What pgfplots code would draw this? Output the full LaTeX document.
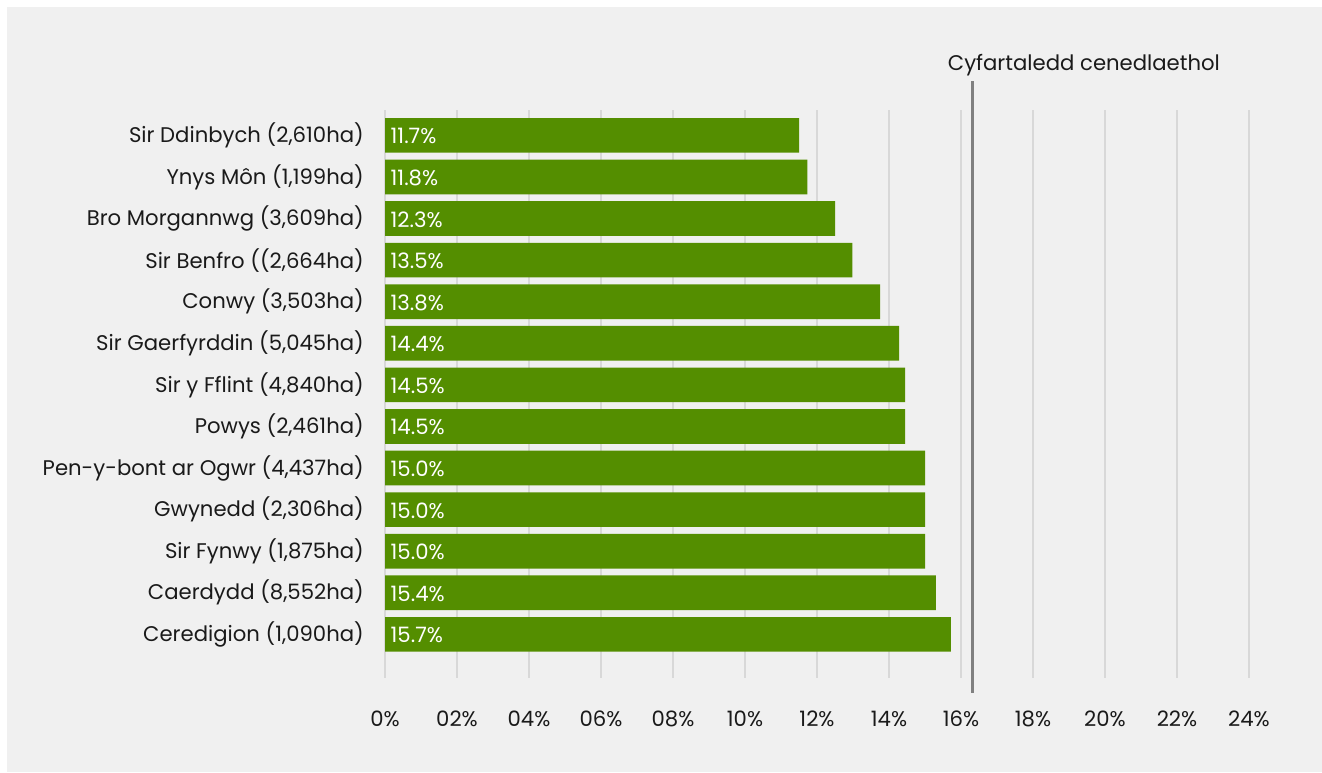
\documentclass[border=0pt]{standalone}
\usepackage{pgfplots}
\pgfplotsset{compat=1.18}
\usepackage{pgfplotstable}
\usepackage{fontspec}
\setmainfont{Poppins}
\definecolor{bargreen}{HTML}{548E00}
\definecolor{panel}{HTML}{F0F0F0}
\definecolor{gridc}{HTML}{D8D8D8}
\definecolor{avgc}{HTML}{808080}
\definecolor{txt}{HTML}{1A1A1A}
\pgfplotstableread[col sep=comma]{
idx,value,label
0,11.5,11.7\%
1,11.73,11.8\%
2,12.5,12.3\%
3,12.98,13.5\%
4,13.75,13.8\%
5,14.28,14.4\%
6,14.45,14.5\%
7,14.45,14.5\%
8,15.0,15.0\%
9,15.0,15.0\%
10,15.0,15.0\%
11,15.3,15.4\%
12,15.72,15.7\%
}\datatable
\begin{document}
\begin{tikzpicture}[x=1pt,y=1pt]
\fill[white] (0,0) rectangle (1322,772);
\fill[panel] (7,0) rectangle (1322,765);
\begin{axis}[
  at={(385pt,94pt)}, anchor=south west,
  scale only axis, width=864pt, height=568pt,
  xmin=0, xmax=24, ymin=-0.61, ymax=13.05,
  y dir=reverse,
  clip=false,
  axis line style={draw=none},
  major tick style={draw=none},
  xtick={0,2,...,24},
  xticklabels={0\%,02\%,04\%,06\%,08\%,10\%,12\%,14\%,16\%,18\%,20\%,22\%,24\%},
  ytick={0,...,12},
  yticklabels={Sir Ddinbych (2{,}610ha),Ynys Môn (1{,}199ha),Bro Morgannwg (3{,}609ha),Sir Benfro ((2{,}664ha),Conwy (3{,}503ha),Sir Gaerfyrddin (5{,}045ha),Sir y Fflint (4{,}840ha),Powys (2{,}461ha),Pen-y-bont ar Ogwr (4{,}437ha),Gwynedd (2{,}306ha),Sir Fynwy (1{,}875ha),Caerdydd (8{,}552ha),Ceredigion (1{,}090ha)},
  xmajorgrids,
  major grid style={draw=gridc, line width=2pt},
  every tick label/.append style={font=\fontsize{21.2}{25}\selectfont, text=txt},
  x tick label style={anchor=base, inner sep=0pt, yshift=-48pt},
  y tick label style={anchor=east, inner sep=0pt, xshift=-21pt},
]
\addplot[xbar, bar width=34.7pt, fill=bargreen, draw=none, bar shift=0pt]
  table[x=value, y=idx] {\datatable};
\addplot[draw=none, mark=none, nodes near coords, point meta=explicit symbolic,
  every node near coord/.style={anchor=west, inner sep=0pt, xshift=5.5pt, yshift=-1pt, text=white, font=\fontsize{21.2}{25}\selectfont}]
  table[x expr=0, y=idx, meta=label] {\datatable};
\addplot[avgc, line width=2.5pt, mark=none] coordinates {(16.32,-1.306) (16.32,13.41)};
\node[anchor=base west, inner sep=0pt, text=txt, font=\fontsize{21.2}{25}\selectfont] at (axis cs:15.63,-1.57) {Cyfartaledd cenedlaethol};
\end{axis}
\end{tikzpicture}
\end{document}
